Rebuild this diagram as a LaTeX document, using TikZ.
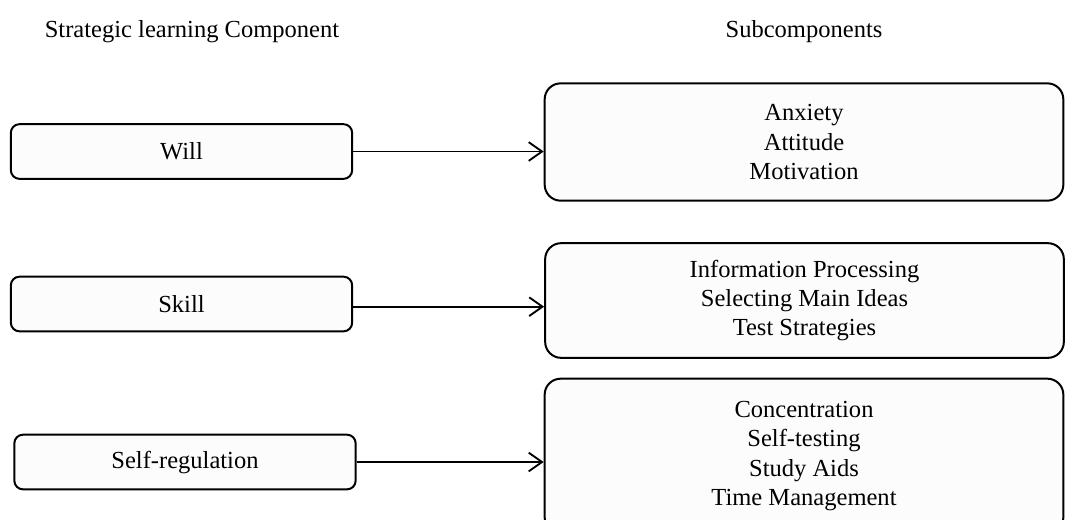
\documentclass[tikz,border=0pt]{standalone}
\usepackage{fontspec}
\setmainfont{Liberation Serif}
\usetikzlibrary{arrows.meta}

\begin{document}
\begin{tikzpicture}[x=0.75pt, y=-0.75pt,
	every node/.style={font=\fontsize{18.4}{22}\selectfont},
	component/.style={draw, rounded corners=6.5pt, line width=1.5pt, fill=black!1, minimum width=256pt, minimum height=41pt},
	subcomp/.style={draw, rounded corners=12pt, line width=1.5pt, fill=black!1, minimum width=389pt, align=center},
	link/.style={-{Straight Barb[length=10pt, width=14pt]}, line width=1.4pt},
	]

	\useasboundingbox (0,0) rectangle (1066,519);
	\clip (0,0) rectangle (1066,519);

	\node[anchor=base] (head1) at (192,37) {Strategic learning Component};
	\node[anchor=base] (head2) at (804,37) {Subcomponents};

	\node[component] (will) at (181.5,151.5) {Will};
	\node[component] (skill) at (181.5,304) {Skill};
	\node[component] (selfreg) at (185,462) {Self-regulation};

	\node[subcomp, minimum height=88pt] (will-sub) at (804,142) {Anxiety\\Attitude\\Motivation};
	\node[subcomp, minimum height=86pt] (skill-sub) at (804.5,300.5) {Information Processing\\Selecting Main Ideas\\Test Strategies};
	\node[subcomp, minimum height=116pt] (selfreg-sub) at (804,456) {Concentration\\Self-testing\\Study Aids\\Time Management};

	\draw[link] (will.east) -- (will.east -| will-sub.west);
	\draw[link] ([yshift=-2pt]skill.east) -- ([yshift=-2pt]skill.east -| skill-sub.west);
	\draw[link] (selfreg.east) -- (selfreg.east -| selfreg-sub.west);

\end{tikzpicture}
\end{document}
